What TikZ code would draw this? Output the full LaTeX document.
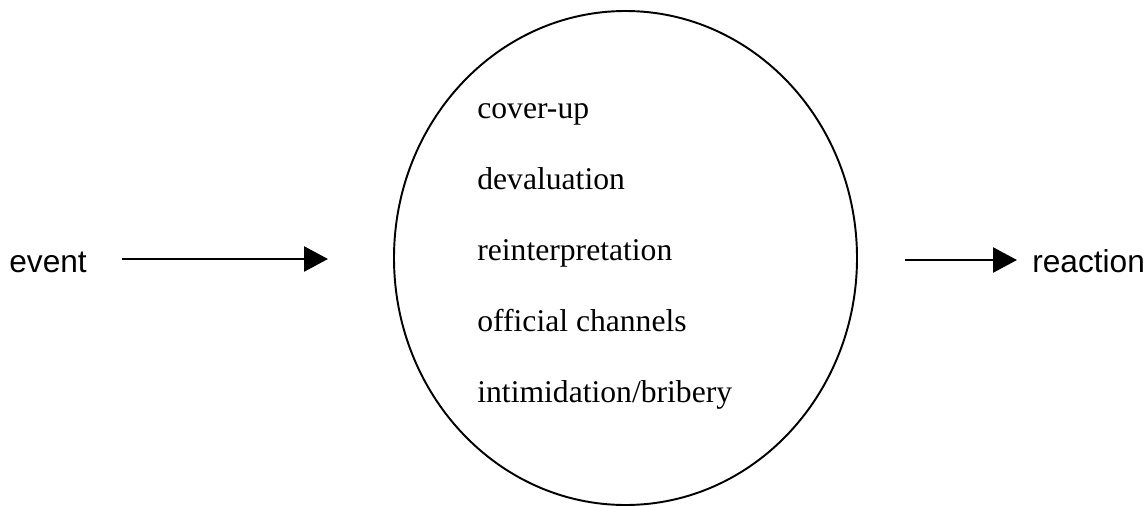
\documentclass[tikz,border=0pt]{standalone}
\usepackage{fontspec}
\setmainfont{Liberation Serif}
\newfontfamily\arialfont{Liberation Sans}
\usetikzlibrary{arrows.meta,positioning,shapes.geometric}

\begin{document}
\begin{tikzpicture}[
  flow/.style={line width=1.5pt,-{Triangle[length=0.48cm,width=0.5cm]}},
  tag/.style={font=\arialfont\fontsize{18}{22}\selectfont,inner sep=0pt,anchor=base west},
  item/.style={font=\fontsize{18}{22}\selectfont,inner sep=0pt,anchor=base west}
]
\useasboundingbox (0,0) rectangle (22.92,-10.1);
\node[draw,ellipse,line width=1.1pt,minimum width=9.26cm,minimum height=9.88cm,inner sep=0pt] (circ) at (12.51,-5.16) {};

\node[tag] (event) at (0.18,-5.44) {event};
\node[tag] (reaction) at (20.64,-5.44) {reaction};

% strategies inside the circle
\foreach \t [count=\i] in {cover-up,devaluation,reinterpretation,official channels,intimidation/bribery}
  \node[item] (item\i) at (9.54,{-2.36-1.42*(\i-1)}) {\t};

% arrows
\coordinate (in1) at (2.44,-5.18);
\coordinate (in2) at (6.56,-5.18);
\coordinate (out1) at (18.1,-5.2);
\coordinate (out2) at (20.34,-5.2);
\draw[flow] (in1) -- (in2);
\draw[flow] (out1) -- (out2);
\end{tikzpicture}
\end{document}
